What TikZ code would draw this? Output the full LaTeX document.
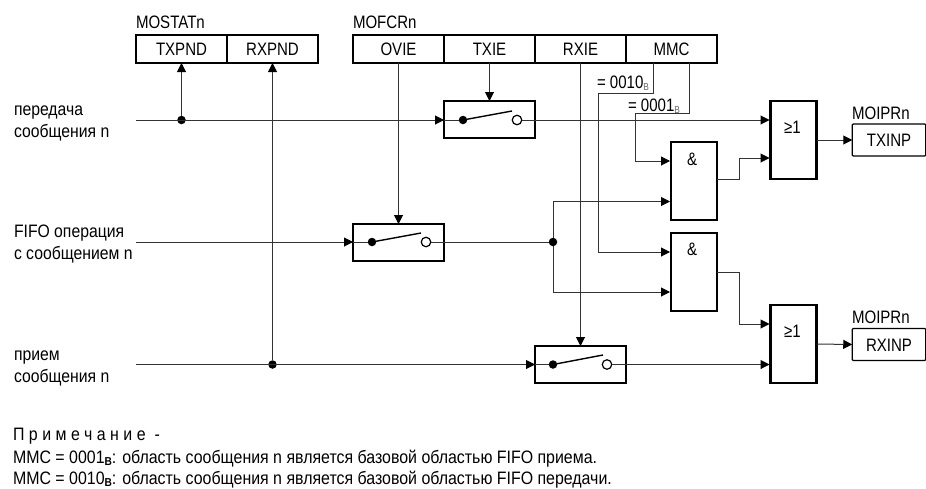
\documentclass[tikz,border=0pt]{standalone}
\usepackage{fontspec}
\setmainfont[FakeStretch=0.836]{Liberation Sans}
\newfontfamily\labelfont[FakeStretch=0.875]{Liberation Sans}
\newfontfamily\notefont[FakeStretch=0.885]{Liberation Sans}
\newfontfamily\spacedfont[FakeStretch=0.885,LetterSpace=25]{Liberation Sans}
\usetikzlibrary{arrows.meta}
\definecolor{wirecol}{gray}{0.2}
\newcommand{\grayB}{\raisebox{-2pt}{\fontsize{10}{10}\selectfont\textcolor{black!60}{B}}}
\newcommand{\noteB}{\raisebox{-2pt}{\fontsize{11.5}{12}\selectfont\bfseries B}}
\tikzset{
  x=1pt,y=-1pt,
  every node/.style={inner sep=0pt,outer sep=0pt,font=\fontsize{18}{20}\selectfont},
  regcell/.style={draw,line width=2.3pt,minimum width=91pt,minimum height=28pt,text height=13pt,text depth=0pt},
  gate/.style={draw,line width=2.3pt,minimum width=46pt,minimum height=78pt},
  swbox/.style={draw,line width=2.3pt,minimum width=91pt,minimum height=37pt},
  outbox/.style={draw,line width=1.2pt,rounded corners=1pt,minimum width=73.5pt,minimum height=32pt,text height=13pt,text depth=0pt},
  jdot/.style={circle,fill=black,minimum size=8.5pt},
  opendot/.style={circle,draw,line width=1.2pt,fill=white,minimum size=9.5pt},
  txt/.style={anchor=base west},
  lab/.style={anchor=base west,font=\fontsize{18}{20}\labelfont},
  note/.style={anchor=base west,font=\fontsize{18}{20}\notefont},
  wire/.style={draw=wirecol,line width=1pt},
  arr/.style={wire,-{Triangle[length=9pt,width=9pt,color=black,fill=black]}},
  lever/.style={line width=1.4pt}
}
\begin{document}
\begin{tikzpicture}
\useasboundingbox (0,0) rectangle (926,488);
% registers
\node[txt] (lmostat) at (136,28) {MOSTATn};
\node[txt] (lmofcr) at (353,28) {MOFCRn};
\node[regcell] (txpnd) at (181.5,49) {TXPND};
\node[regcell] (rxpnd) at (272.5,49) {RXPND};
\node[regcell] (ovie) at (398.5,49) {OVIE};
\node[regcell] (txie) at (489.5,49) {TXIE};
\node[regcell] (rxie) at (580.5,49) {RXIE};
\node[regcell] (mmc) at (671.5,49) {MMC};
% input labels
\node[lab] (l1a) at (14,115) {передача};
\node[lab] (l1b) at (14,137) {сообщения n};
\node[lab] (l2a) at (14,237) {FIFO операция};
\node[lab] (l2b) at (14,259) {с сообщением n};
\node[lab] (l3a) at (14,360) {прием};
\node[lab] (l3b) at (14,382) {сообщения n};
% switches
\node[swbox] (swa) at (489.5,119.5) {};
\node[swbox] (swb) at (398.5,242.5) {};
\node[swbox] (swc) at (580.5,364.5) {};
\node[jdot] (swad) at (463,120) {};
\node[opendot] (swao) at (517,120) {};
\node[jdot] (swbd) at (372,242) {};
\node[opendot] (swbo) at (426,242) {};
\node[jdot] (swcd) at (553,364.5) {};
\node[opendot] (swco) at (607,364.5) {};
\coordinate (swal) at (512,111);
\coordinate (swbl) at (421,233);
\coordinate (swcl) at (603,355);
% gates
\node[gate] (and1) at (694,181) {};
\node[gate] (and2) at (694,272) {};
\node[gate] (or1) at (793.5,140) {};
\node[gate] (or2) at (793.5,344) {};
\node[txt] (tand1) at (687,165) {\&};
\node[txt] (tand2) at (687,255) {\&};
\node[txt] (tor1) at (784,133) {≥1};
\node[txt] (tor2) at (784,337) {≥1};
% outputs
\node[outbox] (txinp) at (889,140) {TXINP};
\node[outbox] (rxinp) at (889,344.5) {RXINP};
\node[txt] (lmo1) at (852,119) {MOIPRn};
\node[txt] (lmo2) at (852,323) {MOIPRn};
% coordinates
\coordinate (in1) at (136,120);
\coordinate (in2) at (136,242);
\coordinate (in3) at (136,364.5);
\node[jdot] (j1) at (181.5,120) {};
\node[jdot] (j3) at (272.5,364.5) {};
\node[jdot] (j2) at (553,242) {};
\coordinate (a1i1) at (670,161);
\coordinate (a1i2) at (670,201.5);
\coordinate (a2i1) at (670,252);
\coordinate (a2i2) at (670,292);
\coordinate (o1i1) at (769.5,120);
\coordinate (o1i2) at (769.5,158);
\coordinate (o2i1) at (769.5,324);
\coordinate (o2i2) at (769.5,364.5);
% wires
\draw[arr] (j1) -- (txpnd.south);
\draw[arr] (j3) -- (rxpnd.south);
\draw[arr] (ovie.south) -- (swb.north);
\draw[arr] (txie.south) -- (swa.north);
\draw[arr] (rxie.south) -- (swc.north);
\draw[arr] (in1) -- (swa.west |- swad);
\draw[arr] (in2) -- (swb.west |- swbd);
\draw[arr] (in3) -- (swc.west |- swcd);
\draw[wire] (swa.west |- swad) -- (swad);
\draw[wire] (swb.west |- swbd) -- (swbd);
\draw[wire] (swc.west |- swcd) -- (swcd);
\draw[lever] (swad) -- (swal);
\draw[lever] (swbd) -- (swbl);
\draw[lever] (swcd) -- (swcl);
\draw[arr] (swao) -- (o1i1);
\draw[arr] (swco) -- (o2i2);
\draw[wire] (swbo) -- (j2);
\draw[arr] (j2) |- (a1i2);
\draw[arr] (j2) |- (a2i2);
\draw[arr] (653,63) -- (653,93) -- (598,93) -- (598,252) -- (a2i1);
\draw[arr] (689,63) -- (689,113) -- (635,113) -- (635,161) -- (a1i1);
\draw[arr] (and1.east |- 0,179) -- (739,179) -- (739,158) -- (o1i2);
\draw[arr] (and2.east |- 0,272) -- (739,272) -- (739,324) -- (o2i1);
\draw[arr] (or1.east) -- (txinp.west);
\draw[arr] (or2.east) -- (rxinp.west);
% condition labels
\node[txt] (c1) at (597,88) {= 0010\grayB};
\node[txt] (c2) at (628,111) {= 0001\grayB};
% note
\node[note,font=\fontsize{18}{20}\spacedfont] (n0) at (13,440) {Примечание -};
\node[note] (n1) at (13,463) {MMC = 0001\noteB: область сообщения n является базовой областью FIFO приема.};
\node[note] (n2) at (13,484.5) {MMC = 0010\noteB: область сообщения n является базовой областью FIFO передачи.};
\end{tikzpicture}
\end{document}
